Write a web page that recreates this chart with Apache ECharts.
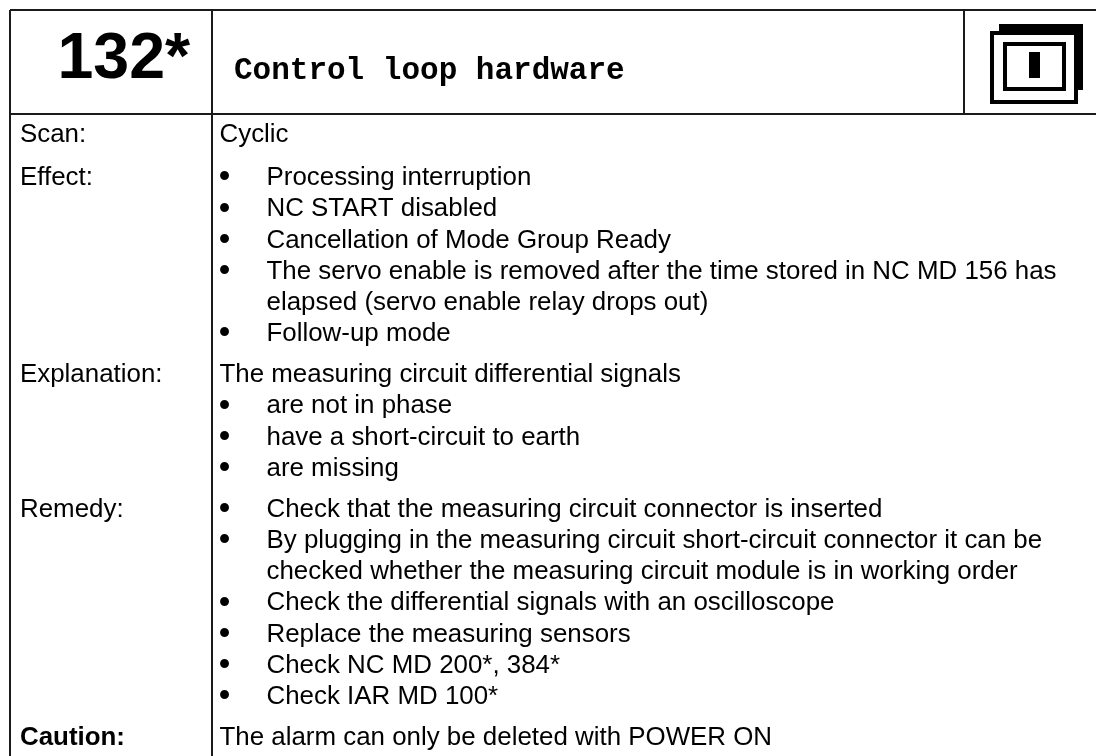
<!DOCTYPE html>
<html>
<head>
<meta charset="utf-8">
<title>Alarm 132*</title>
<script src="https://cdn.jsdelivr.net/npm/echarts@6/dist/echarts.min.js"></script>
<style>
html, body { margin: 0; padding: 0; background: #fff; }
#main { width: 1096px; height: 756px; }
</style>
</head>
<body>
<div id="main"></div>
<script>
'use strict';
var alarmNumber = '132*';
var alarmTitle = 'Control loop hardware';

// each row: label + lines, a leading "* " means bullet, leading "  " means continuation
var rowLabels = ['Scan:', 'Effect:', 'Explanation:', 'Remedy:', 'Caution:'];
var scanLines = ['Cyclic'];
var effectLines = [
	'* Processing interruption',
	'* NC START disabled',
	'* Cancellation of Mode Group Ready',
	'* The servo enable is removed after the time stored in NC MD 156 has',
	'  elapsed (servo enable relay drops out)',
	'* Follow-up mode'
];
var explanationLines = [
	'The measuring circuit differential signals',
	'* are not in phase',
	'* have a short-circuit to earth',
	'* are missing'
];
var remedyLines = [
	'* Check that the measuring circuit connector is inserted',
	'* By plugging in the measuring circuit short-circuit connector it can be',
	'  checked whether the measuring circuit module is in working order',
	'* Check the differential signals with an oscilloscope',
	'* Replace the measuring sensors',
	'* Check NC MD 200*, 384*',
	'* Check IAR MD 100*'
];
var cautionLines = ['The alarm can only be deleted with POWER ON'];
var rowLines = [scanLines, effectLines, explanationLines, remedyLines, cautionLines];

var chart = echarts.init(document.getElementById('main'));
var sans = '"Liberation Sans", Arial, sans-serif';
var mono = '"Liberation Mono", "Courier New", monospace';
var ruleColor = '#1a1a1a';
var textSize = 25.9;
var pitch = 31.2;
var elements = [];

function rule(x1, y1, x2, y2) {
	elements.push({
		type: 'line',
		shape: { x1: x1, y1: y1, x2: x2, y2: y2 },
		style: { stroke: ruleColor, lineWidth: 2 }
	});
}

// baseline is the text baseline, canvas "middle" lands about .28em above it
function label(str, x, baseline, size, font, weight) {
	elements.push({
		type: 'text',
		x: x,
		y: baseline - size * 0.28,
		style: {
			text: str,
			font: (weight || '') + ' ' + size + 'px ' + font,
			fill: '#000',
			textAlign: 'left',
			textVerticalAlign: 'middle'
		}
	});
}

function bullet(baseline) {
	elements.push({
		type: 'text',
		x: 224.5,
		y: baseline - 7,
		style: {
			text: '\u2022',
			font: '33px ' + sans,
			fill: '#000',
			textAlign: 'center',
			textVerticalAlign: 'middle'
		}
	});
}

function box(x, y, w, h) {
	elements.push({
		type: 'rect',
		shape: { x: x, y: y, width: w, height: h },
		style: { fill: '#000' }
	});
}

// table frame
rule(10, 10, 1096, 10);
rule(10, 114, 1096, 114);
rule(10, 10, 10, 756);
rule(212, 10, 212, 756);
rule(964, 10, 964, 114);

// header
label(alarmNumber, 57.5, 78, 64.5, sans, 'bold');
label(alarmTitle, 234, 80, 31, mono, 'bold');

// switch icon, back plate then front frame and slot
box(999, 24, 84, 9);
box(1075, 24, 8, 66);
elements.push({
	type: 'rect',
	shape: { x: 992, y: 33, width: 84, height: 69 },
	style: { fill: '#fff', stroke: '#000', lineWidth: 4 }
});
elements.push({
	type: 'rect',
	shape: { x: 1005, y: 44, width: 59, height: 45 },
	style: { fill: '#fff', stroke: '#000', lineWidth: 4 }
});
box(1029, 52, 11, 26);

// body rows
var y = 142.3;
rowLabels.forEach(function (name, i) {
	label(name, 20, y, textSize, sans, name === 'Caution:' ? 'bold' : '');
	rowLines[i].forEach(function (line, j) {
		if (line.indexOf('* ') === 0) {
			bullet(y);
			label(line.slice(2), 266.5, y, textSize, sans);
		} else if (line.indexOf('  ') === 0) {
			label(line.slice(2), 266.5, y, textSize, sans);
		} else {
			label(line, 219.5, y, textSize, sans);
		}
		if (j < rowLines[i].length - 1) {
			y += pitch;
		}
	});
	y += i === 0 ? 43 : 41;
});

chart.setOption({
	backgroundColor: '#fff',
	animation: false,
	graphic: { elements: elements }
});
</script>
</body>
</html>
